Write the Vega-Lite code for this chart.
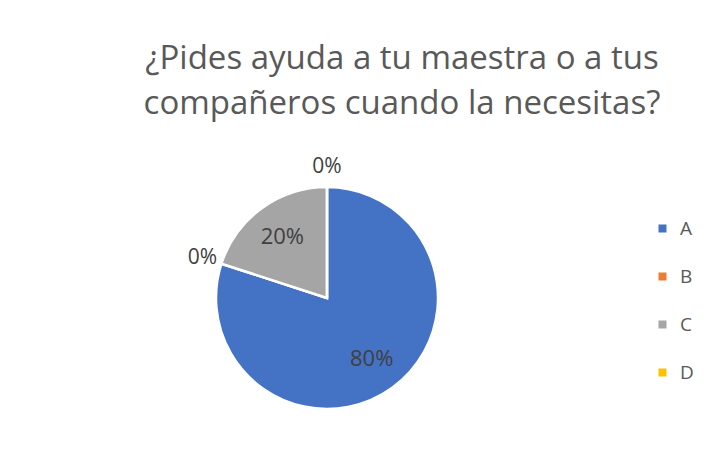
{
  "$schema": "https://vega.github.io/schema/vega-lite/v6.json",
  "width": 654,
  "height": 314,
  "autosize": {"type": "none"},
  "padding": {"left": 0, "top": 141, "right": 55, "bottom": 0},
  "background": "white",
  "config": {"view": {"stroke": null}},
  "title": {
    "text": ["¿Pides ayuda a tu maestra o a tus", "compañeros cuando la necesitas?"],
    "font": "Open Sans",
    "fontSize": 33,
    "fontWeight": "normal",
    "color": "#595959",
    "lineHeight": 45,
    "anchor": "middle",
    "dx": 75,
    "offset": 20
  },
  "data": {
    "values": [
      {"option": "A", "share": 0.8},
      {"option": "B", "share": 0},
      {"option": "C", "share": 0.2},
      {"option": "D", "share": 0}
    ]
  },
  "encoding": {
    "theta": {"field": "share", "type": "quantitative", "stack": true},
    "order": {"field": "option", "type": "nominal", "sort": "ascending"}
  },
  "layer": [
    {
      "mark": {"type": "arc", "outerRadius": 111, "stroke": "white", "strokeWidth": 2.5},
      "encoding": {
        "color": {
          "field": "option",
          "type": "nominal",
          "scale": {"domain": ["A", "B", "C", "D"], "range": ["#4472C4", "#ED7D31", "#A5A5A5", "#FFC000"]},
          "legend": {
            "orient": "none",
            "legendX": 653,
            "legendY": 78,
            "title": null,
            "symbolType": "square",
            "symbolSize": 64,
            "symbolStrokeWidth": 0,
            "labelFont": "Open Sans",
            "labelFontSize": 19,
            "labelColor": "#595959",
            "labelOffset": 8,
            "rowPadding": 28
          }
        }
      }
    },
    {
      "mark": {"type": "text", "radius": 76, "font": "Open Sans", "fontSize": 22, "fill": "#404040"},
      "encoding": {
        "detail": {"field": "option", "type": "nominal"},
        "text": {"condition": {"test": "datum.share > 0", "field": "share", "type": "quantitative", "format": ".0%"}, "value": ""}
      }
    },
    {
      "mark": {"type": "text", "radius": 131, "font": "Open Sans", "fontSize": 21, "fill": "#404040"},
      "encoding": {
        "detail": {"field": "option", "type": "nominal"},
        "text": {"condition": {"test": "datum.share == 0", "field": "share", "type": "quantitative", "format": ".0%"}, "value": ""}
      }
    }
  ]
}
